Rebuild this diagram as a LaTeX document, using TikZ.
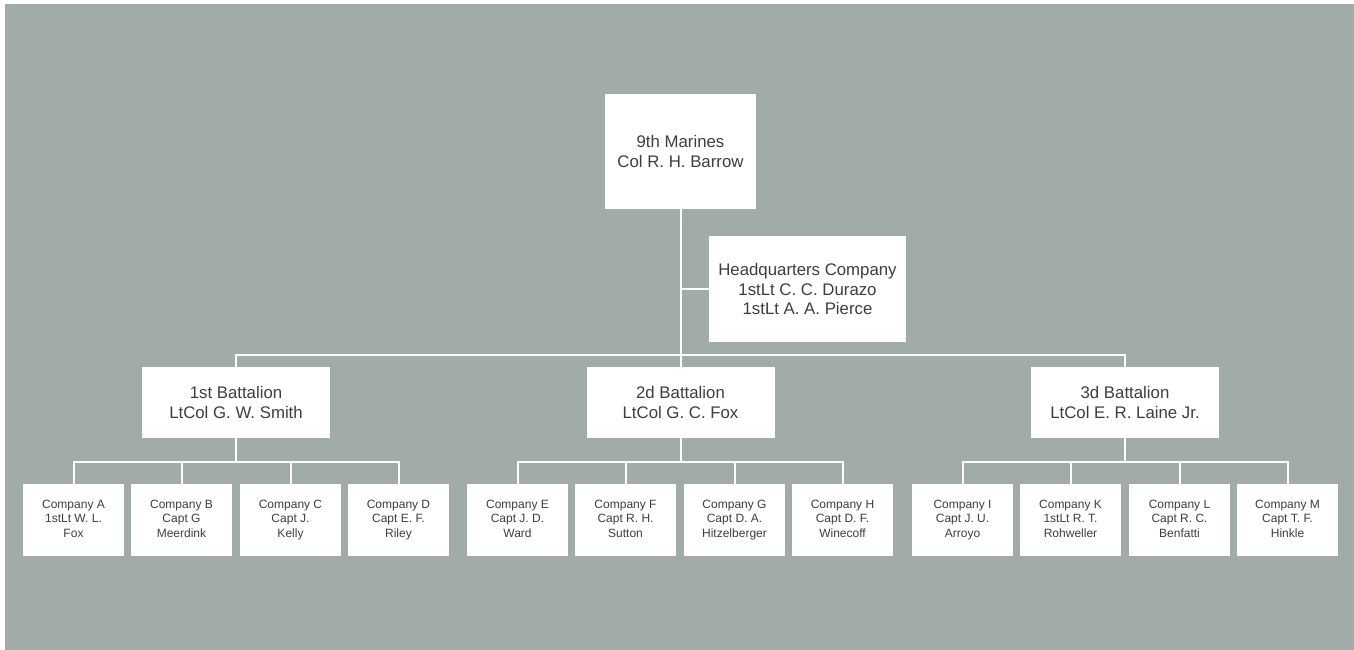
\documentclass[tikz,border=0pt]{standalone}
\usepackage{fontspec}
\setmainfont{Liberation Sans}
\definecolor{bgc}{RGB}{160,171,170}
\definecolor{txtc}{RGB}{62,62,62}
\begin{document}
\begin{tikzpicture}[x=1pt,y=-1pt,
  box/.style={draw=none,fill=white,inner sep=0pt,align=center,text=txtc},
  bigbox/.style={box,font=\fontsize{16.8}{19.5}\selectfont},
  combox/.style={box,minimum width=101pt,minimum height=72pt,font=\fontsize{12}{14.7}\selectfont,
    execute at end node={\vphantom{y}}},
  batbox/.style={bigbox,minimum width=188pt,minimum height=71pt},
  link/.style={draw=white,line width=2pt}]
\useasboundingbox (0,0) rectangle (1354,650);
\fill[bgc] (5,4) rectangle (1354,650);
% top
\node[bigbox,minimum width=151pt,minimum height=115pt] (top) at (680.5,151.5) {9th Marines\\Col R. H. Barrow};
\node[bigbox,minimum width=197pt,minimum height=106pt] (hq) at (807.5,289) {Headquarters Company\\1stLt C. C. Durazo\\1stLt A. A. Pierce};
% battalions
\node[batbox] (b1) at (236,402.5) {1st Battalion\\LtCol G. W. Smith};
\node[batbox] (b2) at (680.5,402.5) {2d Battalion\\LtCol G. C. Fox};
\node[batbox] (b3) at (1125,402.5) {3d Battalion\\LtCol E. R. Laine Jr.};
% companies
\node[combox] (ca) at (73.5,520) {Company A\\1stLt W. L.\\Fox};
\node[combox] (cb) at (181.5,520) {Company B\\Capt G\\Meerdink};
\node[combox] (cc) at (290.5,520) {Company C\\Capt J.\\Kelly};
\node[combox] (cd) at (398.5,520) {Company D\\Capt E. F.\\Riley};
\node[combox] (ce) at (517.5,520) {Company E\\Capt J. D.\\Ward};
\node[combox] (cf) at (625.5,520) {Company F\\Capt R. H.\\Sutton};
\node[combox] (cg) at (734.5,520) {Company G\\Capt D. A.\\Hitzelberger};
\node[combox] (ch) at (842.5,520) {Company H\\Capt D. F.\\Winecoff};
\node[combox] (ci) at (962.5,520) {Company I\\Capt J. U.\\Arroyo};
\node[combox] (ck) at (1070.5,520) {Company K\\1stLt R. T.\\Rohweller};
\node[combox] (cl) at (1179.5,520) {Company L\\Capt R. C.\\Benfatti};
\node[combox] (cm) at (1287.5,520) {Company M\\Capt T. F.\\Hinkle};
% connectors
\draw[link] (top.south) -- (b2.north);
\draw[link] (hq.west) -- (hq.west -| top.south);
\draw[link] (b1.north) -- ++(0,-12) -| (b3.north);
\foreach \b/\f/\s/\t/\l in {b1/ca/cb/cc/cd, b2/ce/cf/cg/ch, b3/ci/ck/cl/cm}{
  \draw[link] (\b.south) -- (\b.south |- 0,462);
  \draw[link] (\f.north) -- ++(0,-22) -| (\l.north);
  \draw[link] (\s.north) -- ++(0,-22);
  \draw[link] (\t.north) -- ++(0,-22);
}
\end{tikzpicture}
\end{document}
